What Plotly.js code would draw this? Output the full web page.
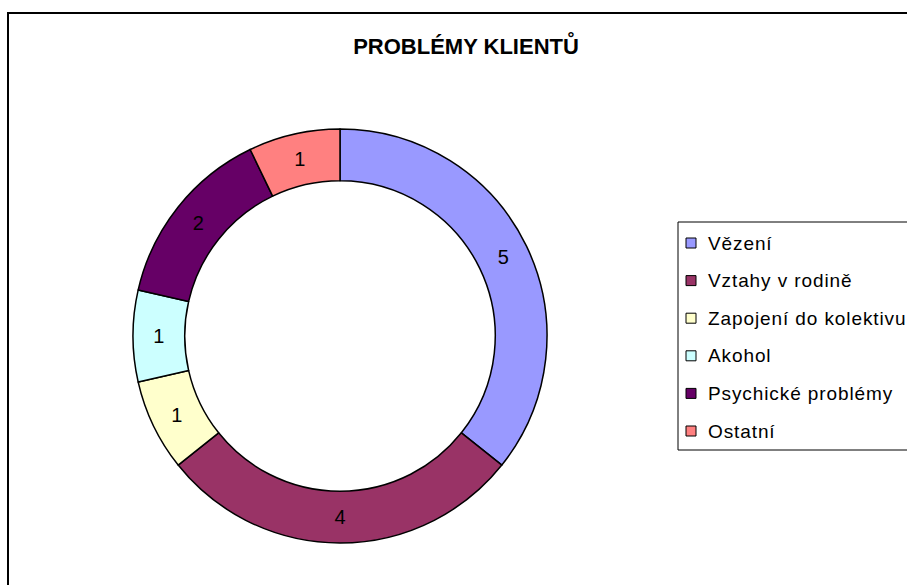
<!DOCTYPE html>
<html>
<head>
<meta charset="utf-8">
<script src="https://cdn.plot.ly/plotly-3.0.1.min.js"></script>
<style>html,body{margin:0;padding:0;background:#fff}#chart{width:907px;height:585px}</style>
</head>
<body>
<div id="chart"></div>
<script>
const categories = ["Vězení", "Vztahy v rodině", "Zapojení do kolektivu", "Akohol", "Psychické problémy", "Ostatní"];
const values = [5, 4, 1, 1, 2, 1];
const colors = ["#9999FF", "#993366", "#FFFFCC", "#CCFFFF", "#660066", "#FF8080"];
const chartTitle = "PROBLÉMY KLIENTŮ";

const W = 907, H = 585;
const px = v => v / W;
const py = v => 1 - v / H;

// donut geometry (pixels)
const cx = 340, cy = 336, R = 207;

const trace = {
  type: "pie",
  labels: categories,
  values: values,
  sort: false,
  direction: "clockwise",
  rotation: 0,
  hole: 0.75,
  textinfo: "value",
  textposition: "inside",
  insidetextorientation: "horizontal",
  textfont: {family: "Liberation Sans, Arial, sans-serif", size: 20, color: "#000"},
  marker: {colors: colors, line: {color: "#000", width: 1.5}},
  domain: {x: [px(cx - R), px(cx + R)], y: [py(cy + R), py(cy - R)]},
  showlegend: false,
  hoverinfo: "label+value"
};

// manual legend built from categories/colors
const legTop = 222, legBottom = 450, legLeft = 678;
const rowY0 = 243, rowStep = 37.6;
const shapes = [
  {type: "rect", xref: "paper", yref: "paper", x0: px(8), x1: 1.05, y0: -0.05, y1: py(13),
   line: {color: "#000", width: 2}, fillcolor: "rgba(0,0,0,0)", layer: "below"},
  {type: "rect", xref: "paper", yref: "paper", x0: px(legLeft), x1: 1.05, y0: py(legBottom), y1: py(legTop),
   line: {color: "#000", width: 1}, fillcolor: "rgba(0,0,0,0)"}
];
const annotations = [];
categories.forEach((c, i) => {
  const yc = rowY0 + i * rowStep;
  shapes.push({type: "rect", xref: "paper", yref: "paper",
    x0: px(686), x1: px(696), y0: py(yc + 5), y1: py(yc - 5),
    fillcolor: colors[i], line: {color: "#000", width: 1}});
  annotations.push({xref: "paper", yref: "paper", x: px(706), y: py(yc), xanchor: "left", yanchor: "middle",
    text: '<span style="letter-spacing:0.9px">' + c + '</span>', showarrow: false,
    font: {family: "Liberation Sans, Arial, sans-serif", size: 19, color: "#000"}});
});

const layout = {
  width: W, height: H,
  margin: {l: 0, r: 0, t: 0, b: 0},
  paper_bgcolor: "#fff",
  title: {text: "<b>" + chartTitle + "</b>", x: 466 / W, xanchor: "center", y: py(46), yanchor: "middle",
          font: {family: "Liberation Sans, Arial, sans-serif", size: 22, color: "#000"}},
  showlegend: false,
  shapes: shapes,
  annotations: annotations
};

Plotly.newPlot("chart", [trace], layout, {displayModeBar: false, staticPlot: true});
</script>
</body>
</html>
